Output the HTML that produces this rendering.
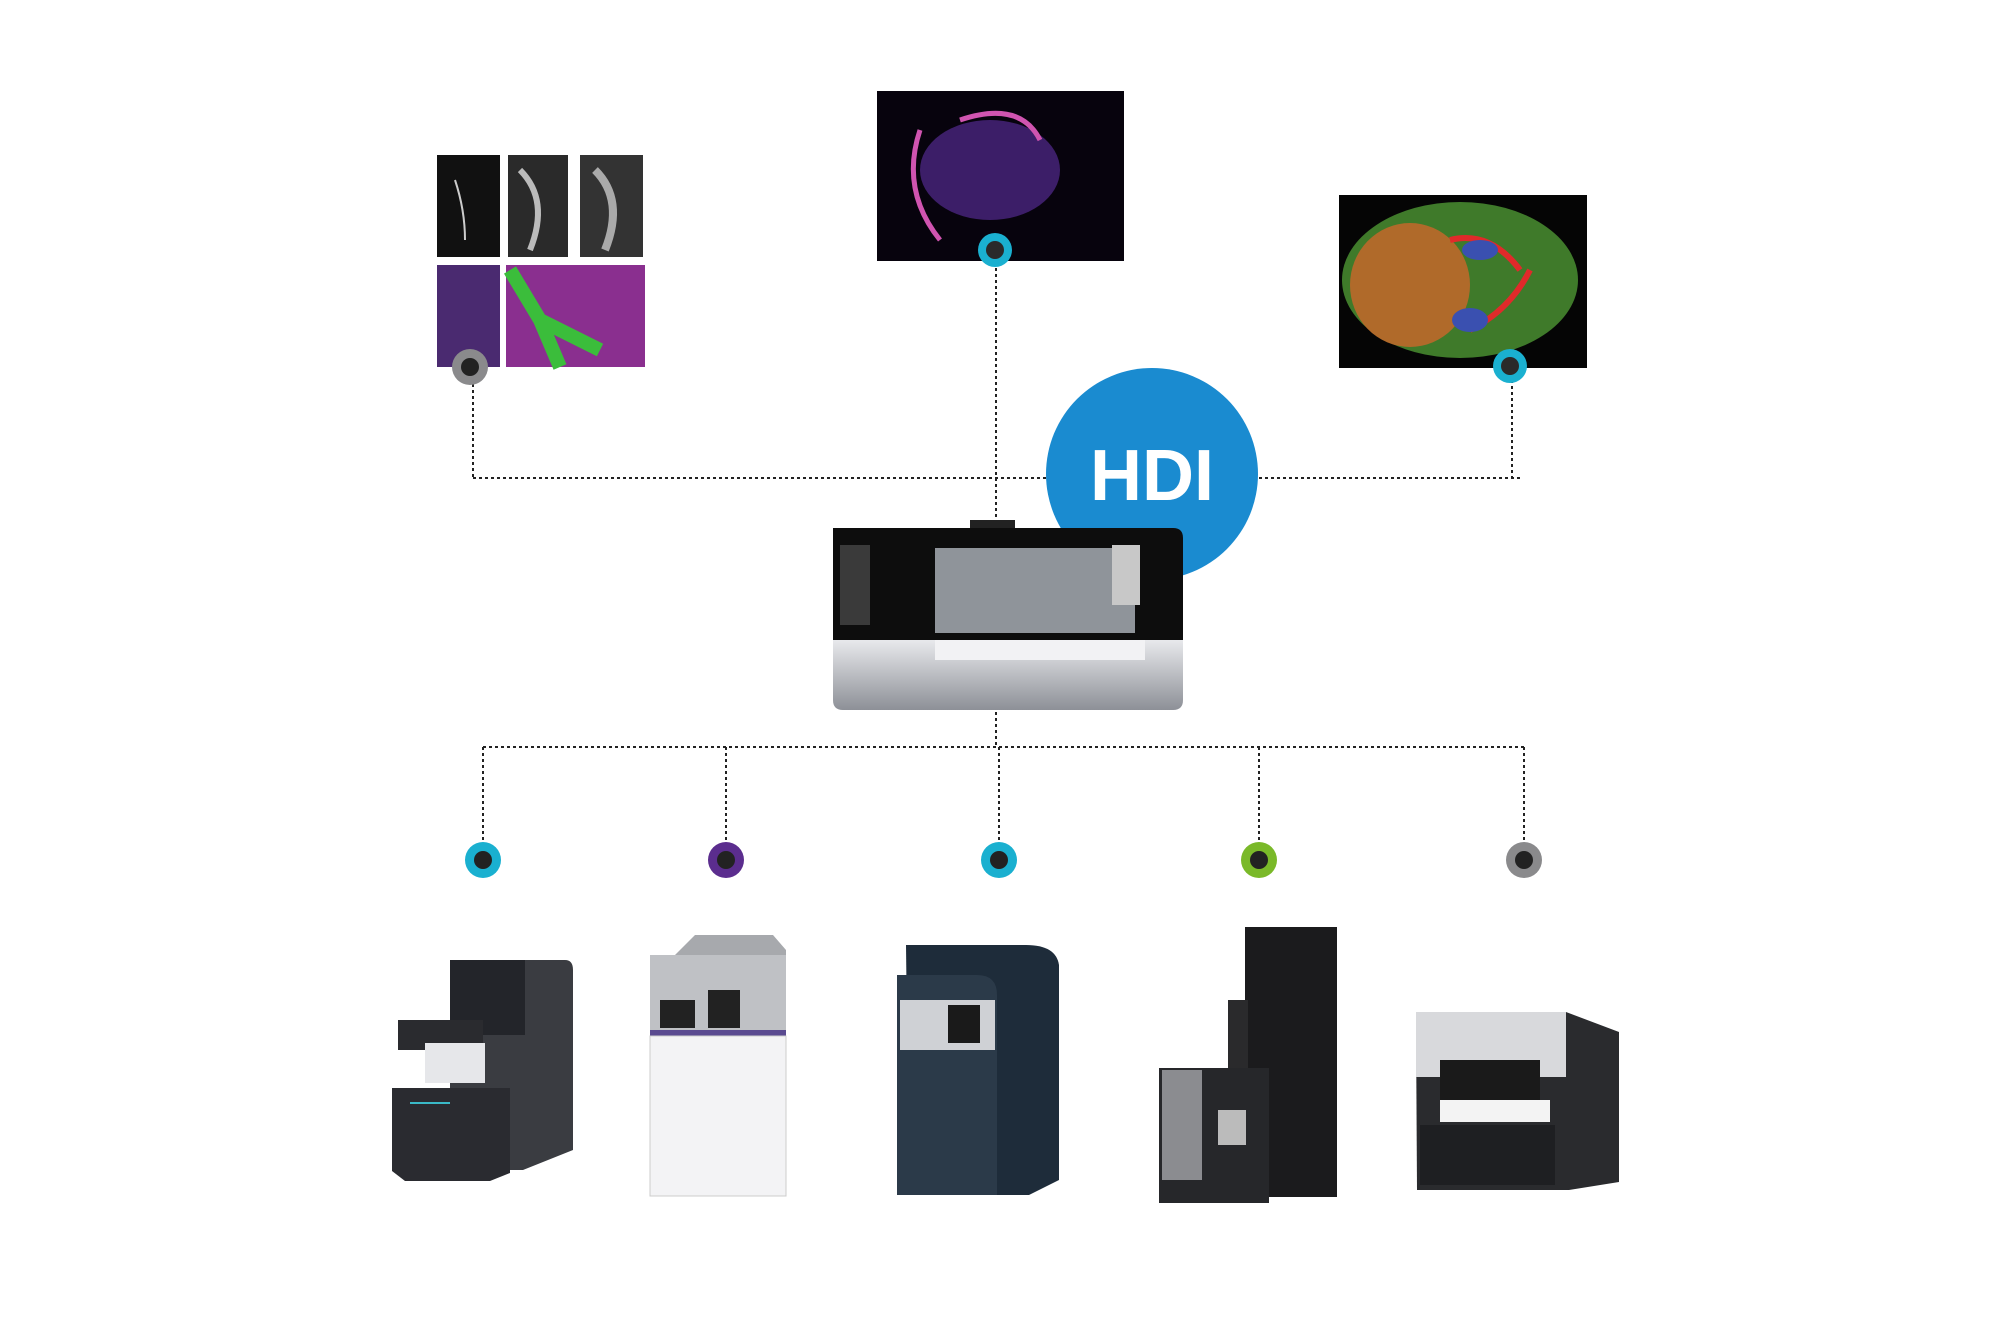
<!DOCTYPE html>
<html><head><meta charset="utf-8"><style>
html,body{margin:0;padding:0;background:#fff;}
svg{display:block}
</style></head><body>
<svg width="2000" height="1333" viewBox="0 0 2000 1333" xmlns="http://www.w3.org/2000/svg">
<defs>
<radialGradient id="gb" cx="50%" cy="50%" r="50%"><stop offset="0" stop-color="#8a8a8a"/><stop offset="1" stop-color="#1a1a1a"/></radialGradient>
<linearGradient id="silver" x1="0" y1="0" x2="0" y2="1"><stop offset="0" stop-color="#e8e9ec"/><stop offset="1" stop-color="#8d9097"/></linearGradient>
<linearGradient id="dark" x1="0" y1="0" x2="1" y2="0"><stop offset="0" stop-color="#2c2e33"/><stop offset="1" stop-color="#4a4c52"/></linearGradient>
</defs>
<!-- dotted connectors -->
<g stroke="#222" stroke-width="2" stroke-dasharray="3,3" fill="none">
<line x1="473" y1="378" x2="473" y2="478"/>
<line x1="473" y1="478" x2="1520" y2="478"/>
<line x1="1512" y1="380" x2="1512" y2="478"/>
<line x1="996" y1="262" x2="996" y2="520"/>
<line x1="996" y1="700" x2="996" y2="747"/>
<line x1="483" y1="747" x2="1524" y2="747"/>
<line x1="483" y1="747" x2="483" y2="845"/>
<line x1="726" y1="747" x2="726" y2="845"/>
<line x1="999" y1="747" x2="999" y2="845"/>
<line x1="1259" y1="747" x2="1259" y2="845"/>
<line x1="1524" y1="747" x2="1524" y2="845"/>
</g>
<!-- top-left grid -->
<rect x="437" y="155" width="63" height="102" fill="#111"/>
<rect x="508" y="155" width="60" height="102" fill="#2a2a2a"/>
<rect x="580" y="155" width="63" height="102" fill="#333"/>
<path d="M520 170 q30 30 10 80" stroke="#bbb" stroke-width="6" fill="none"/>
<path d="M595 170 q30 30 10 80" stroke="#aaa" stroke-width="8" fill="none"/>
<path d="M455 180 q10 30 10 60" stroke="#ccc" stroke-width="2" fill="none"/>
<rect x="437" y="265" width="63" height="102" fill="#4a2a70"/>
<rect x="506" y="265" width="139" height="102" fill="#8a2f8f"/>
<path d="M510 270 L540 320 L560 367 M540 320 L600 350" stroke="#3bbd3b" stroke-width="14" fill="none"/>
<circle cx="470" cy="367" r="18" fill="#8a8a8c"/><circle cx="470" cy="367" r="9" fill="#222"/>
<!-- top-middle image -->
<rect x="877" y="91" width="247" height="170" fill="#07030d"/>
<ellipse cx="990" cy="170" rx="70" ry="50" fill="#4a2580" opacity="0.8"/>
<path d="M920 130 q-20 60 20 110 M960 120 q60 -20 80 20" stroke="#d054b0" stroke-width="5" fill="none"/>
<circle cx="995" cy="250" r="17" fill="#1ab0d0"/><circle cx="995" cy="250" r="9" fill="#2a2a2a"/>
<!-- top-right image -->
<rect x="1339" y="195" width="248" height="173" fill="#050505"/>
<ellipse cx="1460" cy="280" rx="118" ry="78" fill="#3f7a2a"/>
<ellipse cx="1410" cy="285" rx="60" ry="62" fill="#b06a2a"/>
<path d="M1450 240 q40 -10 70 30 M1470 330 q40 -20 60 -60" stroke="#e02a2a" stroke-width="6" fill="none"/>
<ellipse cx="1480" cy="250" rx="18" ry="10" fill="#3a50b0"/>
<ellipse cx="1470" cy="320" rx="18" ry="12" fill="#3a50b0"/>
<circle cx="1510" cy="366" r="17" fill="#1ab0d0"/><circle cx="1510" cy="366" r="9" fill="#2a2a2a"/>
<!-- HDI -->
<circle cx="1152" cy="474" r="106" fill="#1a8bd0"/>
<text x="1152" y="500" text-anchor="middle" font-family="Liberation Sans, sans-serif" font-weight="bold" font-size="72" fill="#fff">HDI</text>
<!-- central device -->
<rect x="970" y="520" width="45" height="10" fill="#222"/>
<path d="M833 528 h340 q10 0 10 10 v120 h-350 z" fill="#0d0d0d"/>
<path d="M833 640 h350 v60 q0 10 -10 10 h-330 q-10 0 -10 -10 z" fill="url(#silver)"/>
<rect x="935" y="548" width="200" height="85" fill="#8f949a"/>
<rect x="1112" y="545" width="28" height="60" fill="#c8c8c8"/>
<rect x="840" y="545" width="30" height="80" fill="#3a3a3a"/>
<rect x="935" y="640" width="210" height="20" fill="#f2f2f4"/>
<!-- bottom circles -->
<g>
<circle cx="483" cy="860" r="18" fill="#1ab0d0"/><circle cx="483" cy="860" r="9" fill="#222"/>
<circle cx="726" cy="860" r="18" fill="#5b2d8e"/><circle cx="726" cy="860" r="9" fill="#222"/>
<circle cx="999" cy="860" r="18" fill="#1ab0d0"/><circle cx="999" cy="860" r="9" fill="#222"/>
<circle cx="1259" cy="860" r="18" fill="#7ab929"/><circle cx="1259" cy="860" r="9" fill="#222"/>
<circle cx="1524" cy="860" r="18" fill="#8a8a8c"/><circle cx="1524" cy="860" r="9" fill="#222"/>
</g>
<!-- bottom devices -->
<!-- 1 -->
<path d="M450 960 h115 q8 0 8 10 v180 l-50 20 h-73 z" fill="#3a3c41"/>
<rect x="450" y="960" width="75" height="75" fill="#23252a"/>
<rect x="398" y="1020" width="85" height="30" fill="#2a2b2f"/>
<rect x="425" y="1043" width="60" height="40" fill="#e6e7ea"/>
<path d="M392 1088 h118 v85 l-20 8 h-85 l-13 -10 z" fill="#2a2b30"/>
<rect x="410" y="1102" width="40" height="2" fill="#3ab9c7"/>
<!-- 2 -->
<path d="M695 935 h78 l13 15 v40 h-136 v-10 z" fill="#a7a9ad"/>
<rect x="650" y="955" width="136" height="75" fill="#bfc1c5"/>
<rect x="660" y="1000" width="35" height="28" fill="#222"/>
<rect x="708" y="990" width="32" height="38" fill="#222"/>
<rect x="650" y="1030" width="136" height="6" fill="#5a4a90"/>
<rect x="650" y="1036" width="136" height="160" fill="#f3f3f5" stroke="#ccc"/>
<!-- 3 -->
<path d="M906 945 h120 q30 0 33 20 v215 l-30 15 h-120 z" fill="#1e2c3a"/>
<path d="M897 975 h80 q20 0 20 20 v200 h-100 z" fill="#2b3a49"/>
<rect x="900" y="1000" width="95" height="50" fill="#cfd1d5"/>
<rect x="948" y="1005" width="32" height="38" fill="#1a1a1a"/>
<!-- 4 -->
<rect x="1245" y="927" width="92" height="270" fill="#1b1b1d"/>
<rect x="1228" y="1000" width="20" height="80" fill="#2a2a2c"/>
<rect x="1159" y="1068" width="110" height="135" fill="#26272a"/>
<rect x="1162" y="1070" width="40" height="110" fill="#8b8c90"/>
<rect x="1218" y="1110" width="28" height="35" fill="#bbb"/>
<!-- 5 -->
<path d="M1416 1022 q0 -10 10 -10 h140 l53 20 v150 l-50 8 h-152 z" fill="#2a2b2e"/>
<rect x="1416" y="1012" width="150" height="65" fill="#d8d9dc"/>
<rect x="1440" y="1060" width="100" height="40" fill="#1a1a1a"/>
<rect x="1440" y="1100" width="110" height="22" fill="#f3f3f3"/>
<path d="M1420 1125 h135 v60 h-135 z" fill="#1e1f22"/>
</svg>
</body></html>
